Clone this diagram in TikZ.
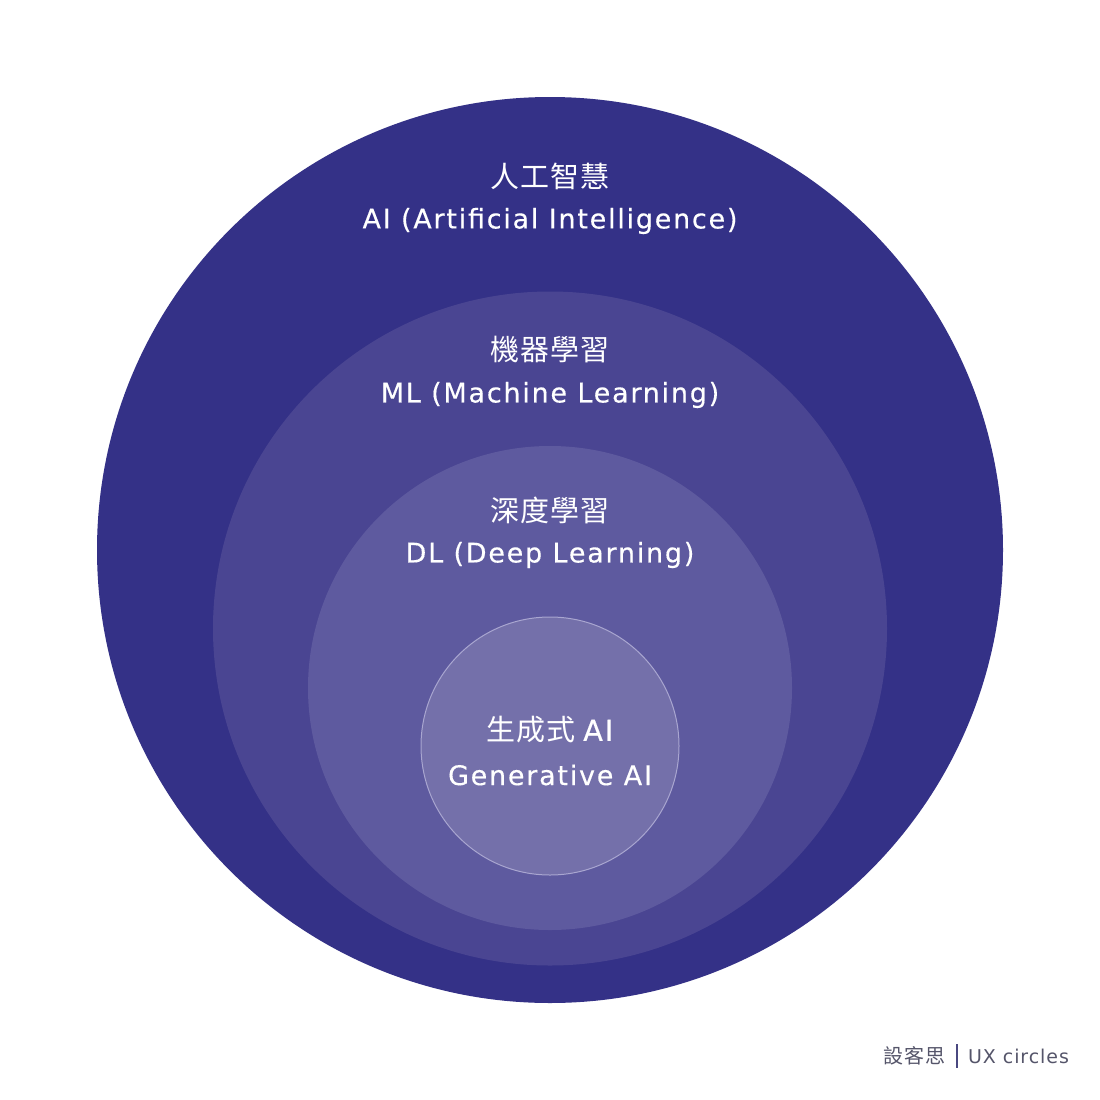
\documentclass[tikz,border=0pt]{standalone}
\usepackage{fontspec}
\setmainfont{DejaVu Sans}[LetterSpace=6.5,FakeBold=0.35]
\newfontfamily\footfont{DejaVu Sans}[LetterSpace=5]
\newfontfamily\cjk{Noto Sans CJK TC}[LetterSpace=4]
\definecolor{cAI}{HTML}{343187}
\definecolor{cML}{HTML}{4A4592}
\definecolor{cDL}{HTML}{5E5A9F}
\definecolor{cGA}{HTML}{7470AA}
\definecolor{cRing}{HTML}{A9A6D0}
\definecolor{cFoot}{HTML}{55556A}
\definecolor{cBar}{HTML}{4A4880}
\begin{document}
\begin{tikzpicture}[x=1pt,y=-1pt,
  zh/.style={text=white,font=\cjk\fontsize{29}{30}\selectfont,inner sep=0pt,anchor=center},
  en/.style={text=white,font=\fontsize{27}{30}\selectfont,inner sep=0pt,anchor=center},
  foot/.style={text=cFoot,inner sep=0pt,anchor=center}]
\useasboundingbox (0,0) rectangle (1100,1100);
\fill[white] (0,0) rectangle (1100,1100);
\fill[cAI] (550,550) circle[radius=453];
\fill[cML] (550,628.5) circle[radius=337];
\fill[cDL] (550,688) circle[radius=242];
\fill[cGA,draw=cRing,line width=1pt] (550,746) circle[radius=129];
\node[zh] (aizh) at (550,176) {人工智慧};
\node[en] (aien) at (550,221) {AI (Artificial Intelligence)};
\node[zh] (mlzh) at (550,350) {機器學習};
\node[en] (mlen) at (550,395) {ML (Machine Learning)};
\node[zh] (dlzh) at (550,510) {深度學習};
\node[en] (dlen) at (550,555) {DL (Deep Learning)};
\node[zh] (gazh) at (550,730) {生成式\hspace{0.25em}{\normalfont AI}};
\node[en] (gaen) at (550,775) {Generative AI};
\node[foot,font=\cjk\fontsize{20}{22}\selectfont] (fzh) at (914.5,1056) {設客思};
\draw[cBar,line width=2pt] (957,1044) -- (957,1068);
\node[foot,font=\footfont\fontsize{19}{22}\selectfont] (fen) at (1018.5,1056) {UX circles};
\end{tikzpicture}
\end{document}
